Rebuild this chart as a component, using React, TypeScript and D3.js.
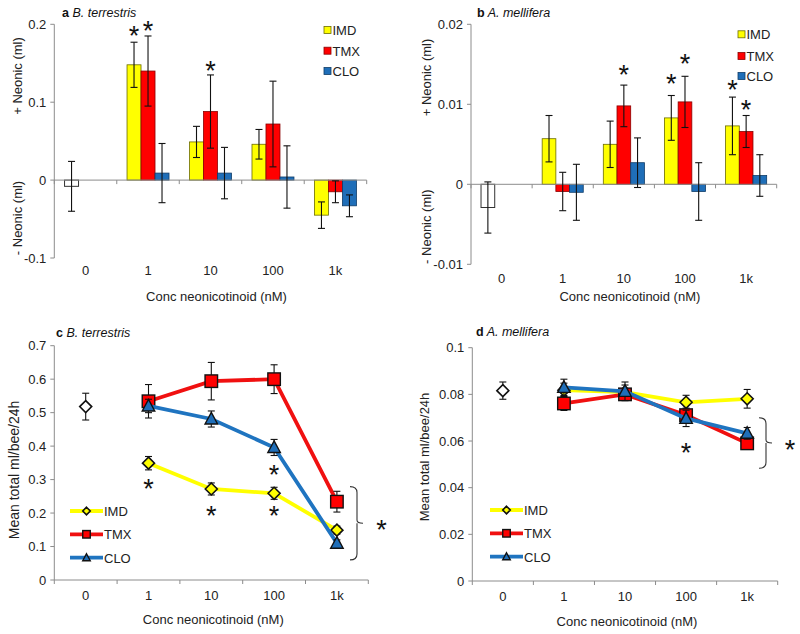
import React from "react";
import * as d3 from "d3";

const FONT = "'Liberation Sans', Arial, Helvetica, sans-serif";

// ---------- data ----------
const categories = ["0", "1", "10", "100", "1k"];
const doseCats = ["1", "10", "100", "1k"];
const seriesNames = ["IMD", "TMX", "CLO"];

// panel a: B. terrestris preference (+/- neonic, ml)
const aControl = -0.008;
const aControlErr = 0.032;
const aIMD = [0.148, 0.049, 0.046, -0.045];
const aIMDErr = [0.029, 0.02, 0.019, 0.017];
const aTMX = [0.14, 0.088, 0.072, -0.015];
const aTMXErr = [0.045, 0.047, 0.055, 0.014];
const aCLO = [0.009, 0.009, 0.004, -0.033];
const aCLOErr = [0.038, 0.033, 0.04, 0.014];
const aTicks = [-0.1, 0, 0.1, 0.2];
const aTickLabels = ["-0.1", "0", "0.1", "0.2"];
const aStars = [
  { cat: "1", series: "IMD", value: 0.193 },
  { cat: "1", series: "TMX", value: 0.2 },
  { cat: "10", series: "TMX", value: 0.148 },
];

// panel b: A. mellifera preference
const bControl = -0.0029;
const bControlErr = 0.0032;
const bIMD = [0.0057, 0.005, 0.0083, 0.0073];
const bIMDErr = [0.0029, 0.0029, 0.0028, 0.0036];
const bTMX = [-0.0009, 0.0098, 0.0103, 0.0066];
const bTMXErr = [0.0024, 0.0026, 0.0032, 0.002];
const bCLO = [-0.001, 0.0027, -0.0009, 0.0011];
const bCLOErr = [0.0035, 0.0031, 0.0036, 0.0026];
const bTicks = [-0.01, 0, 0.01, 0.02];
const bTickLabels = ["-0.01", "0", "0.01", "0.02"];
const bStars = [
  { cat: "10", series: "TMX", value: 0.0145 },
  { cat: "100", series: "IMD", value: 0.0134 },
  { cat: "100", series: "TMX", value: 0.0158 },
  { cat: "1k", series: "IMD", value: 0.0126 },
  { cat: "1k", series: "TMX", value: 0.0101 },
];

// panel c: B. terrestris total consumption
const cControl = 0.518;
const cControlErr = 0.04;
const cIMD = [0.349, 0.272, 0.259, 0.149];
const cIMDErr = [0.02, 0.018, 0.018, 0.012];
const cTMX = [0.534, 0.594, 0.6, 0.234];
const cTMXErr = [0.05, 0.056, 0.043, 0.031];
const cCLO = [0.52, 0.481, 0.396, 0.11];
const cCLOErr = [0.02, 0.024, 0.024, 0.01];
const cTicks = [0, 0.1, 0.2, 0.3, 0.4, 0.5, 0.6, 0.7];
const cTickLabels = ["0", "0.1", "0.2", "0.3", "0.4", "0.5", "0.6", "0.7"];
const cStars = [
  { cat: "1", value: 0.291 },
  { cat: "10", value: 0.211 },
  { cat: "100", value: 0.211 },
  { cat: "100", value: 0.334 },
];
const cBracket = [0.06, 0.279];

// panel d: A. mellifera total consumption
const dControl = 0.0816;
const dControlErr = 0.0037;
const dIMD = [0.0818, 0.081, 0.0766, 0.0781];
const dIMDErr = [0.003, 0.003, 0.003, 0.004];
const dTMX = [0.0761, 0.08, 0.0711, 0.059];
const dTMXErr = [0.003, 0.002, 0.003, 0.002];
const dCLO = [0.083, 0.0813, 0.0697, 0.0633];
const dCLOErr = [0.0035, 0.004, 0.0035, 0.0025];
const dTicks = [0, 0.02, 0.04, 0.06, 0.08, 0.1];
const dTickLabels = ["0", "0.02", "0.04", "0.06", "0.08", "0.1"];
const dStars = [{ cat: "100", value: 0.0575 }];
const dBracket = [0.0483, 0.07];

// ---------- styles ----------
const FILL: Record<string, string> = { IMD: "#FFFF00", TMX: "#FF0000", CLO: "#1F6EB8" };
const BAR_STROKE: Record<string, string> = { IMD: "#6b6b00", TMX: "#8a0000", CLO: "#0f3c68" };
const LINE: Record<string, string> = { IMD: "#FFFF00", TMX: "#F01010", CLO: "#1F74C0" };
const AXIS = "#8c8c8c";
const FS = 13;

function Star({ x, cy }: { x: number; cy: number }) {
  return (
    <text x={x} y={cy + 15.5} fontSize={27} textAnchor="middle" fontFamily={FONT} fill="#111">
      *
    </text>
  );
}

function Title({ x, y, letter, name }: any) {
  return (
    <text x={x} y={y} fontSize={12.5} fontFamily={FONT} fill="#111">
      <tspan fontWeight="bold">{letter}</tspan>
      <tspan fontStyle="italic">{" " + name}</tspan>
    </text>
  );
}

function BarPanel(p: any) {
  const x = d3.scaleBand<string>().domain(categories).range([p.x0, p.x1]);
  const bw = x.bandwidth();
  const inner = d3.scaleBand<string>().domain(seriesNames).range([bw * 0.164, bw * 0.836]);
  const w = inner.bandwidth();
  const y = d3.scaleLinear().domain(p.yDomain).range([p.yBottom, p.yTop]);
  const y0 = y(0);
  const series: Record<string, [number[], number[]]> = p.series;
  const errBar = (cx: number, v: number, e: number, key: string) => (
    <g key={key} stroke="#111" strokeWidth={1.1}>
      <line x1={cx} x2={cx} y1={y(v - e)} y2={y(v + e)} />
      <line x1={cx - 3.5} x2={cx + 3.5} y1={y(v - e)} y2={y(v - e)} />
      <line x1={cx - 3.5} x2={cx + 3.5} y1={y(v + e)} y2={y(v + e)} />
    </g>
  );
  const ctrlX = (x("0") as number) + (inner("IMD") as number);
  return (
    <g fontFamily={FONT}>
      {/* y axis */}
      <line x1={p.x0} x2={p.x0} y1={p.yTop} y2={p.yBottom} stroke={AXIS} />
      {p.ticks.map((t: number, i: number) => (
        <g key={"yt" + i}>
          <line x1={p.x0 - 4} x2={p.x0} y1={y(t)} y2={y(t)} stroke={AXIS} />
          <text x={p.x0 - 8} y={y(t) + 4.5} fontSize={FS} textAnchor="end" fill="#222">
            {p.tickLabels[i]}
          </text>
        </g>
      ))}
      {/* bars */}
      <rect x={ctrlX} width={w} y={Math.min(y(p.control), y0)} height={Math.abs(y(p.control) - y0)} fill="#fff" stroke="#333" />
      {seriesNames.map((s) =>
        doseCats.map((c, i) => {
          const v = series[s][0][i];
          return (
            <rect
              key={s + c}
              x={(x(c) as number) + (inner(s) as number)}
              width={w}
              y={Math.min(y(v), y0)}
              height={Math.abs(y(v) - y0)}
              fill={FILL[s]}
              stroke={BAR_STROKE[s]}
              strokeWidth={0.8}
            />
          );
        })
      )}
      {/* x axis at zero */}
      <line x1={p.x0} x2={p.x1} y1={y0} y2={y0} stroke={AXIS} />
      {[...categories.map((c) => x(c) as number), p.x1].map((bx, i) => (
        <line key={"xt" + i} x1={bx} x2={bx} y1={y0} y2={y0 + 4} stroke={AXIS} />
      ))}
      {/* error bars */}
      {errBar(ctrlX + w / 2, p.control, p.controlErr, "ctrlerr")}
      {seriesNames.map((s) =>
        doseCats.map((c, i) =>
          errBar((x(c) as number) + (inner(s) as number) + w / 2, series[s][0][i], series[s][1][i], "e" + s + c)
        )
      )}
      {/* stars */}
      {p.stars.map((st: any, i: number) => (
        <Star key={"st" + i} x={(x(st.cat) as number) + (inner(st.series) as number) + w / 2} cy={y(st.value)} />
      ))}
      {/* category labels */}
      {categories.map((c) => (
        <text key={"cl" + c} x={(x(c) as number) + bw / 2} y={p.catLabelY} fontSize={FS} textAnchor="middle" fill="#222">
          {c}
        </text>
      ))}
      <text x={(p.x0 + p.x1) / 2 + 6} y={p.xLabelY} fontSize={FS} textAnchor="middle" fill="#222">
        Conc neonicotinoid (nM)
      </text>
      <text transform={`translate(${p.yLabelX},${p.posLabelY}) rotate(-90)`} fontSize={FS} textAnchor="middle" fill="#222">
        + Neonic (ml)
      </text>
      <text transform={`translate(${p.yLabelX},${p.negLabelY}) rotate(-90)`} fontSize={FS} textAnchor="middle" fill="#222">
        - Neonic (ml)
      </text>
      {/* legend */}
      {seriesNames.map((s, i) => (
        <g key={"lg" + s}>
          <rect x={p.legX} y={p.legY[i] - 3.5} width={7} height={7} fill={FILL[s]} stroke={BAR_STROKE[s]} strokeWidth={0.8} />
          <text x={p.legX + 8.5} y={p.legY[i] + 5} fontSize={FS} fill="#222">
            {s}
          </text>
        </g>
      ))}
      <Title x={p.titleX} y={p.titleY} letter={p.letter} name={p.name} />
    </g>
  );
}

function Marker({ kind, cx, cy, size, fill }: any) {
  const h = size / 2;
  if (kind === "diamond") {
    return (
      <path
        d={`M${cx},${cy - h}L${cx + h},${cy}L${cx},${cy + h}L${cx - h},${cy}Z`}
        fill={fill}
        stroke="#111"
        strokeWidth={1.6}
      />
    );
  }
  if (kind === "square") {
    return <rect x={cx - h} y={cy - h} width={size} height={size} fill={fill} stroke="#111" strokeWidth={1.4} />;
  }
  return (
    <path
      d={`M${cx},${cy - h * 1.05}L${cx + h},${cy + h * 0.8}L${cx - h},${cy + h * 0.8}Z`}
      fill={fill}
      stroke="#111"
      strokeWidth={1.4}
    />
  );
}

const MARKER_KIND: Record<string, string> = { IMD: "diamond", TMX: "square", CLO: "triangle" };
const MARKER_SIZE: Record<string, number> = { IMD: 12, TMX: 12.5, CLO: 12.5 };

function LinePanel(p: any) {
  const x = d3.scaleBand<string>().domain(categories).range([p.x0, p.x1]);
  const bw = x.bandwidth();
  const cx = (c: string) => (x(c) as number) + bw / 2;
  const y = d3.scaleLinear().domain(p.yDomain).range([p.yBottom, p.yTop]);
  const series: Record<string, [number[], number[]]> = p.series;
  const line = d3
    .line<number>()
    .x((_, i) => cx(doseCats[i]))
    .y((v) => y(v));
  const errBar = (px: number, v: number, e: number, key: string) => (
    <g key={key} stroke="#111" strokeWidth={1.1}>
      <line x1={px} x2={px} y1={y(v - e)} y2={y(v + e)} />
      <line x1={px - 3.5} x2={px + 3.5} y1={y(v - e)} y2={y(v - e)} />
      <line x1={px - 3.5} x2={px + 3.5} y1={y(v + e)} y2={y(v + e)} />
    </g>
  );
  const yb0 = y(p.bracket[1]);
  const yb1 = y(p.bracket[0]);
  const ym = (yb0 + yb1) / 2;
  const bxA = p.bracketX;
  return (
    <g fontFamily={FONT}>
      <line x1={p.x0} x2={p.x0} y1={p.yTop} y2={p.yBottom} stroke={AXIS} />
      {p.ticks.map((t: number, i: number) => (
        <g key={"yt" + i}>
          <line x1={p.x0 - 4} x2={p.x0} y1={y(t)} y2={y(t)} stroke={AXIS} />
          <text x={p.x0 - 8} y={y(t) + 4.5} fontSize={FS} textAnchor="end" fill="#222">
            {p.tickLabels[i]}
          </text>
        </g>
      ))}
      <line x1={p.x0} x2={p.x1} y1={y(0)} y2={y(0)} stroke={AXIS} />
      {[...categories.map((c) => x(c) as number), p.x1].map((bx, i) => (
        <line key={"xt" + i} x1={bx} x2={bx} y1={y(0)} y2={y(0) + 4} stroke={AXIS} />
      ))}
      {/* control */}
      {errBar(cx("0"), p.control, p.controlErr, "ctrl")}
      <Marker kind="diamond" cx={cx("0")} cy={y(p.control)} size={12} fill="#fff" />
      {seriesNames.map((s) => (
        <g key={s}>
          <path d={line(series[s][0]) as string} fill="none" stroke={LINE[s]} strokeWidth={3.8} />
          {doseCats.map((c, i) => errBar(cx(c), series[s][0][i], series[s][1][i], "e" + s + c))}
          {doseCats.map((c, i) => (
            <Marker key={"m" + s + c} kind={MARKER_KIND[s]} cx={cx(c)} cy={y(series[s][0][i])} size={MARKER_SIZE[s]} fill={FILL[s]} />
          ))}
        </g>
      ))}
      {p.stars.map((st: any, i: number) => (
        <Star key={"st" + i} x={cx(st.cat)} cy={y(st.value)} />
      ))}
      {/* bracket */}
      <path
        d={`M${bxA},${yb0}Q${bxA + 7},${yb0} ${bxA + 7},${yb0 + 6}L${bxA + 7},${ym - 3}Q${bxA + 7},${ym} ${bxA + 13},${ym}M${bxA + 7},${ym}Q${bxA + 7},${ym} ${bxA + 7},${ym + 3}L${bxA + 7},${yb1 - 6}Q${bxA + 7},${yb1} ${bxA},${yb1}`}
        fill="none"
        stroke="#333"
        strokeWidth={1.1}
      />
      <Star x={p.bracketStarX} cy={ym} />
      {/* legend */}
      {seriesNames.map((s, i) => (
        <g key={"lg" + s}>
          <line x1={p.legX} x2={p.legX + 33} y1={p.legY[i]} y2={p.legY[i]} stroke={LINE[s]} strokeWidth={3.8} />
          <Marker kind={MARKER_KIND[s]} cx={p.legX + 16.5} cy={p.legY[i]} size={7.5} fill={FILL[s]} />
          <text x={p.legX + 34} y={p.legY[i] + 5} fontSize={FS} fill="#222">
            {s}
          </text>
        </g>
      ))}
      {categories.map((c) => (
        <text key={"cl" + c} x={cx(c)} y={p.catLabelY} fontSize={FS} textAnchor="middle" fill="#222">
          {c}
        </text>
      ))}
      <text x={(p.x0 + p.x1) / 2 + 2} y={p.xLabelY} fontSize={FS} textAnchor="middle" fill="#222">
        Conc neonicotinoid (nM)
      </text>
      <text transform={`translate(${p.yLabelX},${p.yLabelY}) rotate(-90)`} fontSize={p.yLabelFont} textAnchor="middle" fill="#222">
        Mean total ml/bee/24h
      </text>
      <Title x={p.titleX} y={p.titleY} letter={p.letter} name={p.name} />
    </g>
  );
}

export default function App() {
  return (
    <svg width={800} height={634} style={{ position: "absolute", left: 0, top: 0, background: "#fff" }}>
      <rect width={800} height={634} fill="#fff" />
      <BarPanel
        x0={54.3}
        x1={366.7}
        yDomain={[-0.1, 0.2]}
        yBottom={258}
        yTop={24.3}
        ticks={aTicks}
        tickLabels={aTickLabels}
        control={aControl}
        controlErr={aControlErr}
        series={{ IMD: [aIMD, aIMDErr], TMX: [aTMX, aTMXErr], CLO: [aCLO, aCLOErr] }}
        stars={aStars}
        catLabelY={275}
        xLabelY={301}
        yLabelX={22}
        posLabelY={76}
        negLabelY={218}
        legX={324}
        legY={[30, 50.7, 71]}
        titleX={62}
        titleY={17}
        letter="a"
        name="B. terrestris"
      />
      <BarPanel
        x0={471}
        x1={776.7}
        yDomain={[-0.01, 0.02]}
        yBottom={264.3}
        yTop={24.3}
        ticks={bTicks}
        tickLabels={bTickLabels}
        control={bControl}
        controlErr={bControlErr}
        series={{ IMD: [bIMD, bIMDErr], TMX: [bTMX, bTMXErr], CLO: [bCLO, bCLOErr] }}
        stars={bStars}
        catLabelY={283}
        xLabelY={301}
        yLabelX={431}
        posLabelY={77.5}
        negLabelY={226.7}
        legX={738}
        legY={[34.3, 56, 76]}
        titleX={477}
        titleY={17}
        letter="b"
        name="A. mellifera"
      />
      <LinePanel
        x0={54.3}
        x1={368.3}
        yDomain={[0, 0.7]}
        yBottom={580}
        yTop={345.7}
        ticks={cTicks}
        tickLabels={cTickLabels}
        control={cControl}
        controlErr={cControlErr}
        series={{ IMD: [cIMD, cIMDErr], TMX: [cTMX, cTMXErr], CLO: [cCLO, cCLOErr] }}
        stars={cStars}
        bracket={cBracket}
        bracketX={350}
        bracketStarX={381.5}
        legX={70}
        legY={[511, 534.3, 557.7]}
        catLabelY={600}
        xLabelY={624}
        yLabelX={19}
        yLabelY={470}
        yLabelFont={14}
        titleX={56}
        titleY={337}
        letter="c"
        name="B. terrestris"
      />
      <LinePanel
        x0={472.3}
        x1={777.7}
        yDomain={[0, 0.1]}
        yBottom={581}
        yTop={347.7}
        ticks={dTicks}
        tickLabels={dTickLabels}
        control={dControl}
        controlErr={dControlErr}
        series={{ IMD: [dIMD, dIMDErr], TMX: [dTMX, dTMXErr], CLO: [dCLO, dCLOErr] }}
        stars={dStars}
        bracket={dBracket}
        bracketX={759}
        bracketStarX={790}
        legX={490}
        legY={[510, 533.3, 556.7]}
        catLabelY={601}
        xLabelY={626}
        yLabelX={429}
        yLabelY={457}
        yLabelFont={13}
        titleX={476}
        titleY={336}
        letter="d"
        name="A. mellifera"
      />
    </svg>
  );
}
